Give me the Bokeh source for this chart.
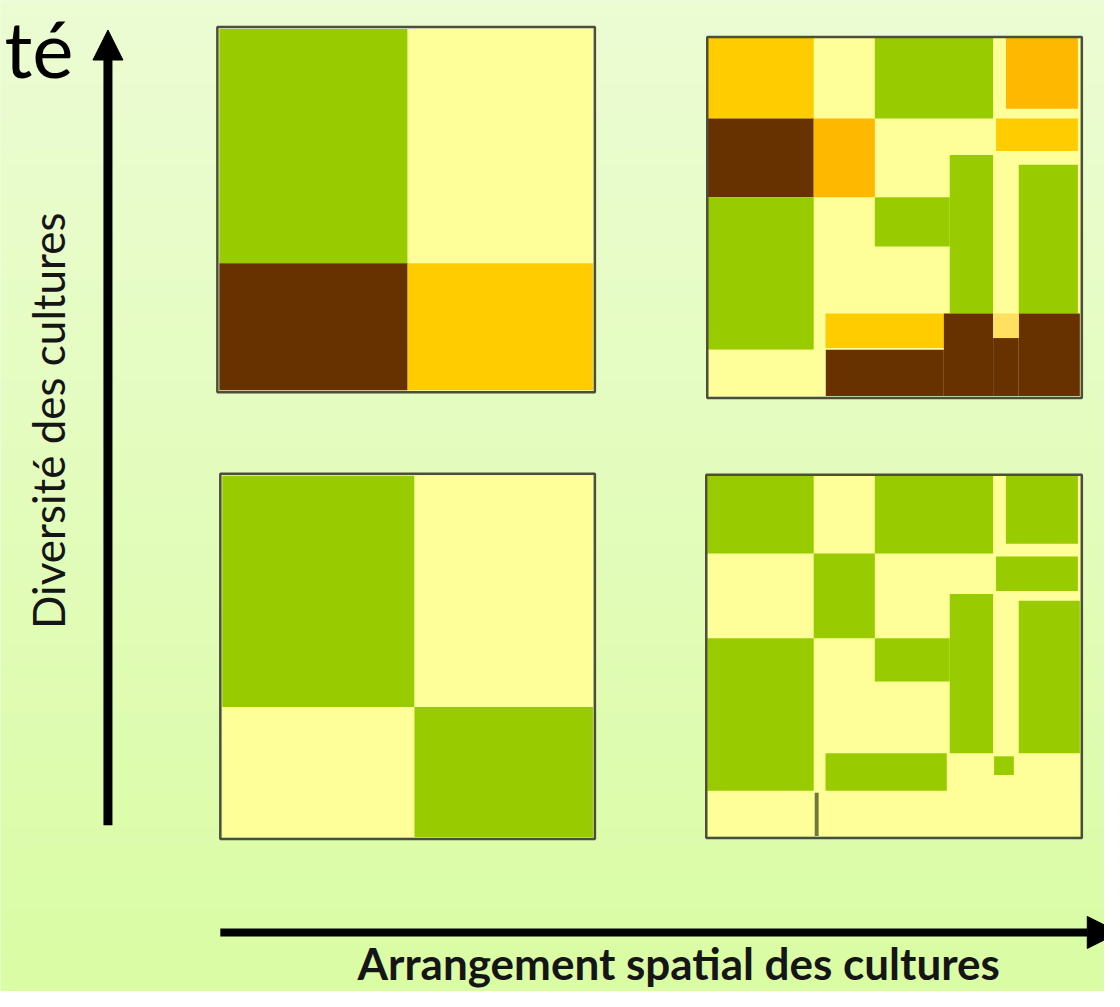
import numpy as np
from bokeh.plotting import figure
from bokeh.models import Range1d, Arrow, NormalHead, Label
from bokeh.embed import file_html
from bokeh.resources import INLINE

# colour names used by the cells
COLORS = {"green": "#99cc00", "pale": "#ffff99", "gold": "#ffcc00",
          "orange": "#ffb800", "brown": "#683200", "notch": "#ffe060",
          "line": "#6f7a3a"}

# panel outlines: left, right, top, bottom
panel_left = [220, 717, 223, 716]
panel_right = [603, 1097, 603, 1097]
panel_top = [27, 37, 481, 482]
panel_bottom = [398, 404, 852, 851]

# top-left panel cells
tl_left = [222, 413, 222, 413]
tl_right = [413, 601, 413, 601]
tl_top = [29, 29, 267, 267]
tl_bottom = [267, 267, 396, 396]
tl_color = ["green", "pale", "brown", "gold"]

# bottom-left panel cells
bl_left = [225, 420, 225, 420]
bl_right = [420, 601, 420, 601]
bl_top = [483, 483, 718, 718]
bl_bottom = [718, 718, 850, 850]
bl_color = ["green", "pale", "pale", "green"]

# top-right panel cells (first one is the pale base)
tr_left = [717, 717, 887, 1020, 717, 825, 1010, 963, 1033, 717, 887, 837, 957, 1033, 1007, 837, 1007, 717]
tr_right = [1095, 825, 1007, 1093, 825, 887, 1093, 1007, 1093, 825, 963, 957, 1007, 1095, 1033, 957, 1033, 837]
tr_top = [38, 38, 38, 38, 120, 120, 120, 157, 167, 200, 200, 318, 318, 318, 343, 355, 318, 355]
tr_bottom = [402, 120, 120, 110, 200, 200, 153, 318, 318, 355, 250, 353, 402, 402, 402, 402, 343, 402]
tr_color = ["pale", "gold", "green", "orange", "brown", "orange", "gold", "green", "green",
            "green", "green", "gold", "brown", "brown", "brown", "brown", "notch", "pale"]

# bottom-right panel cells (first one is the pale base)
br_left = [717, 717, 887, 1020, 825, 1010, 963, 1033, 717, 887, 837, 1008, 826]
br_right = [1095, 825, 1007, 1093, 887, 1093, 1007, 1095, 825, 963, 960, 1028, 830]
br_top = [483, 483, 483, 483, 562, 565, 603, 610, 648, 648, 765, 768, 805]
br_bottom = [849, 562, 562, 552, 648, 600, 765, 765, 803, 692, 803, 787, 849]
br_color = ["pale", "green", "green", "green", "green", "green", "green", "green",
            "green", "green", "green", "green", "line"]

title_tail = "té"
y_title = "Diversité des cultures"
x_title = "Arrangement spatial des cultures"

p = figure(width=1104, height=991, output_backend="svg", toolbar_location=None,
           x_range=Range1d(0, 1120), y_range=Range1d(1007, 0),
           min_border=0, outline_line_color=None)
p.axis.visible = False
p.grid.visible = False
p.background_fill_color = "#e3fcc0"
p.border_fill_color = "#e3fcc0"

# background gradient (style only)
top_rgb = np.array([0xec, 0xfd, 0xd4])
bot_rgb = np.array([0xda, 0xfc, 0xa4])
edges = np.linspace(0, 1007, 61)
cols = []
for i in range(60):
    t = i / 59
    c = (top_rgb * (1 - t) + bot_rgb * t).astype(int)
    cols.append("#%02x%02x%02x" % tuple(c))
p.quad(left=0, right=1120, top=edges[:-1], bottom=edges[1:], fill_color=cols, line_color=None)

for L, R, T, B, C in [(tl_left, tl_right, tl_top, tl_bottom, tl_color),
                      (bl_left, bl_right, bl_top, bl_bottom, bl_color),
                      (tr_left, tr_right, tr_top, tr_bottom, tr_color),
                      (br_left, br_right, br_top, br_bottom, br_color)]:
    p.quad(left=L, right=R, top=T, bottom=B, fill_color=[COLORS[c] for c in C], line_color=None)

p.quad(left=panel_left, right=panel_right, top=panel_top, bottom=panel_bottom,
       fill_color=None, line_color="#4d4d3a", line_width=2.5)

# arrows
p.add_layout(Arrow(end=NormalHead(size=30, fill_color="black", line_color="black"),
                   x_start=109, y_start=838, x_end=109, y_end=30,
                   line_width=9, line_color="black"))
p.add_layout(Arrow(end=NormalHead(size=32, fill_color="black", line_color="black"),
                   x_start=223, y_start=947, x_end=1135, y_end=947,
                   line_width=8, line_color="black"))

p.add_layout(Label(x=74, y=48, text=title_tail, text_align="right", text_baseline="middle",
                   text_font="Lato", text_font_size="78px", text_color="black"))
p.add_layout(Label(x=48, y=427, text=y_title, angle=np.pi / 2, text_align="center",
                   text_baseline="middle", text_font="Lato", text_font_size="44px",
                   text_color="#151515"))
p.add_layout(Label(x=688, y=978, text=x_title, text_align="center", text_baseline="middle",
                   text_font="Lato", text_font_style="bold", text_font_size="44px",
                   text_color="#151515"))

open("out.html", "w").write(file_html(p, INLINE))
